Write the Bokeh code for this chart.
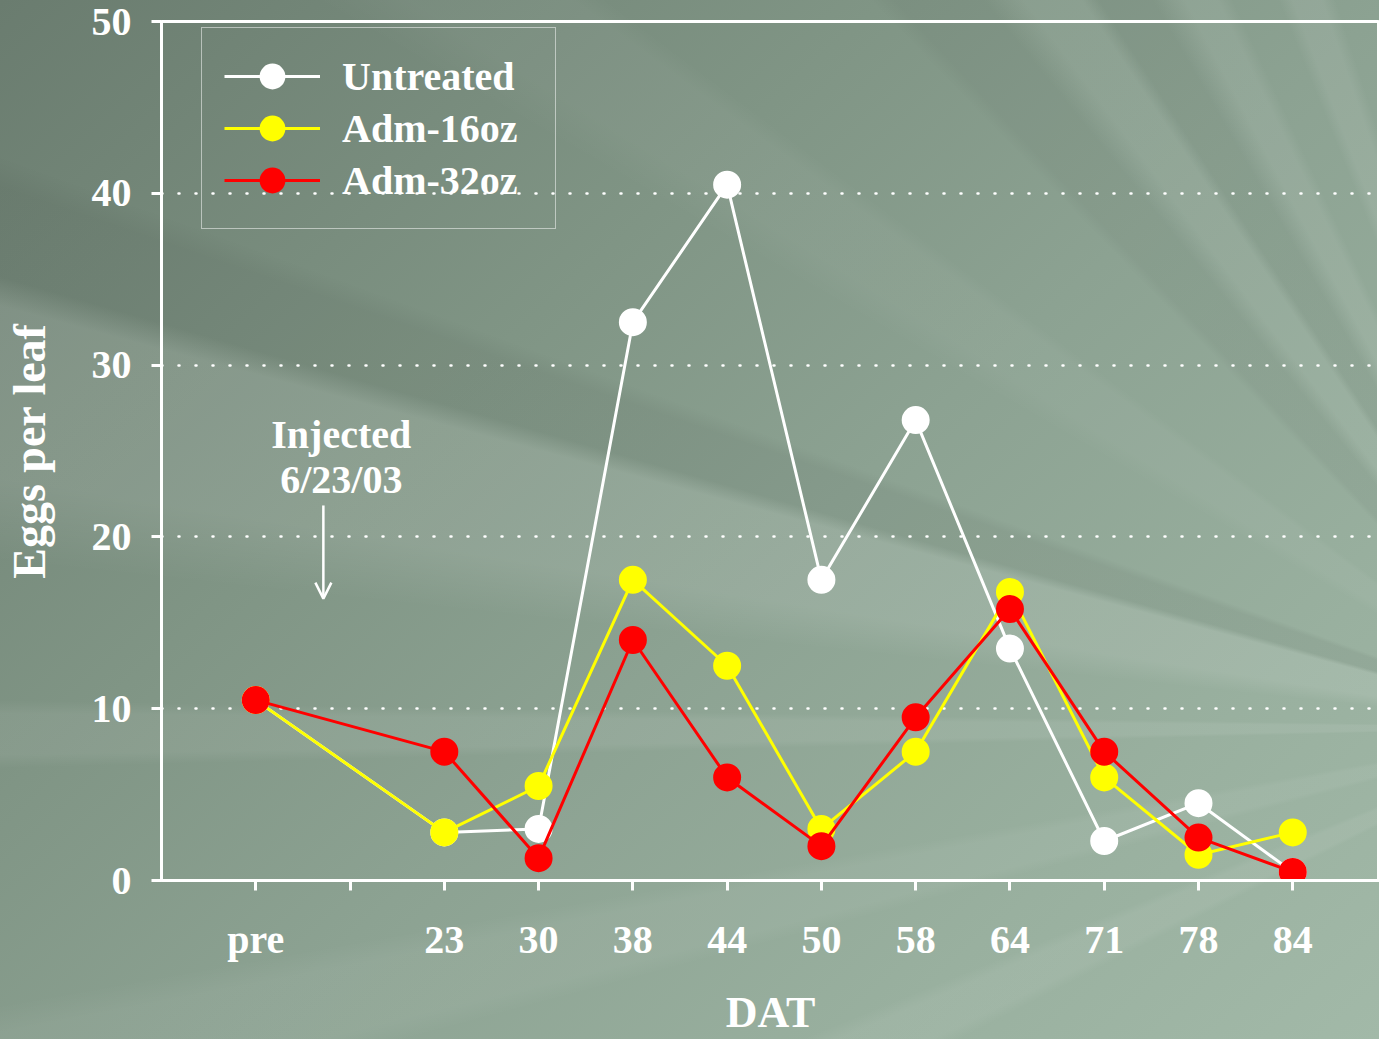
from bokeh.plotting import figure
from bokeh.models import (ColumnDataSource, FixedTicker, Legend, LegendItem,
                          Label, Arrow, OpenHead)
from bokeh.embed import file_html
from bokeh.resources import INLINE

# ---------------- data ----------------
tick_labels = ["pre", "", "23", "30", "38", "44", "50", "58", "64", "71", "78", "84"]
categories = ["pre", "23", "30", "38", "44", "50", "58", "64", "71", "78", "84"]
untreated = [10.5, 2.8, 3.0, 32.5, 40.5, 17.5, 26.8, 13.5, 2.3, 4.5, 0.5]
adm_16oz = [10.5, 2.8, 5.5, 17.5, 12.5, 3.0, 7.5, 16.8, 6.0, 1.5, 2.8]
adm_32oz = [10.5, 7.5, 1.3, 14.0, 6.0, 2.0, 9.5, 15.8, 7.5, 2.5, 0.5]
series_names = ["Untreated", "Adm-16oz", "Adm-32oz"]
series_colors = ["#ffffff", "#ffff00", "#ff0000"]
y_ticks = [0, 10, 20, 30, 40, 50]
grid_ticks = [10, 20, 30, 40]

x_pos = [tick_labels.index(c) + 1 for c in categories]

FONT = "Liberation Serif"

p = figure(width=1379, height=1039, x_range=(0, 12.92), y_range=(0, 50),
           output_backend="svg", toolbar_location=None,
           min_border_left=160, min_border_right=0,
           min_border_top=21, min_border_bottom=159)

p.styles = {
    "background": (
        "conic-gradient(from 0deg at 114% 70%, "
        "rgba(255,255,255,0) 0deg 243deg, "
        "rgba(255,255,255,0.06) 244deg 247deg, "
        "rgba(255,255,255,0) 248deg 255deg, "
        "rgba(255,255,255,0.05) 256deg 259deg, "
        "rgba(255,255,255,0) 260deg 268.5deg, "
        "rgba(255,255,255,0.07) 269deg 270.5deg, "
        "rgba(255,255,255,0) 271deg 276deg, "
        "rgba(255,255,255,0.10) 279deg 285deg, "
        "rgba(0,0,0,0.05) 286deg 289deg, "
        "rgba(255,255,255,0) 290deg 300deg, "
        "rgba(255,255,255,0.04) 302deg 306deg, "
        "rgba(255,255,255,0) 307deg 316deg, "
        "rgba(0,0,0,0.04) 317deg 321deg, "
        "rgba(255,255,255,0.06) 323deg 326deg, "
        "rgba(0,0,0,0.04) 327deg 330deg, "
        "rgba(255,255,255,0.07) 332deg 334deg, "
        "rgba(255,255,255,0) 335deg 338deg, "
        "rgba(255,255,255,0.08) 339deg 341deg, "
        "rgba(255,255,255,0) 342deg 360deg), "
        "linear-gradient(138deg, #6a7c6f 0%, #809585 35%, #8ca292 55%, #99b09f 80%, #a2b9a8 100%)"
    )
}

p.background_fill_alpha = 0
p.border_fill_alpha = 0
p.outline_line_color = "white"
p.outline_line_width = 3

# grid
p.xgrid.visible = False
p.ygrid.ticker = FixedTicker(ticks=grid_ticks)
p.ygrid.grid_line_color = "white"
p.ygrid.grid_line_width = 2.5
p.ygrid.grid_line_dash = "1 16"
p.ygrid.grid_line_cap = "round"

# axes
p.xaxis.ticker = FixedTicker(ticks=list(range(1, len(tick_labels) + 1)))
p.xaxis.major_label_overrides = {i + 1: lab for i, lab in enumerate(tick_labels)}
p.yaxis.ticker = FixedTicker(ticks=y_ticks)
for ax in (p.xaxis[0], p.yaxis[0]):
    ax.axis_line_color = "white"
    ax.axis_line_width = 3
    ax.major_tick_line_color = "white"
    ax.major_tick_line_width = 3
    ax.major_tick_out = 10
    ax.major_tick_in = 0
    ax.minor_tick_line_color = None
    ax.major_label_text_font = FONT
    ax.major_label_text_font_style = "bold"
    ax.major_label_text_font_size = "40px"
    ax.major_label_text_color = "white"
    ax.axis_label_text_font = FONT
    ax.axis_label_text_font_style = "bold"
    ax.axis_label_text_color = "white"
p.xaxis.major_label_standoff = 26
p.yaxis.major_label_standoff = 20
p.xaxis.axis_label = "DAT"
p.xaxis.axis_label_text_font_size = "44px"
p.xaxis.axis_label_standoff = 23
p.yaxis.axis_label = "Eggs per leaf"
p.yaxis.axis_label_text_font_size = "46px"
p.yaxis.axis_label_standoff = 34

# series
items = []
for name, vals, col in zip(series_names, [untreated, adm_16oz, adm_32oz], series_colors):
    src = ColumnDataSource(dict(x=x_pos, y=vals))
    ln = p.line("x", "y", source=src, line_color=col, line_width=3)
    sc = p.scatter("x", "y", source=src, size=23, fill_color=col,
                   line_color=col, line_width=5)
    items.append(LegendItem(label=name, renderers=[ln, sc]))

legend = Legend(items=items, location=(40, 651), padding=22, margin=0,
                glyph_width=96, glyph_height=52, spacing=0,
                label_standoff=22, label_width=191,
                label_text_font=FONT, label_text_font_style="bold",
                label_text_font_size="40px", label_text_color="white",
                label_text_baseline="middle",
                border_line_color="white", border_line_width=1.5,
                background_fill_alpha=0)
p.add_layout(legend)

# annotation
p.add_layout(Label(x=1.907, y=25.97, text="Injected", text_align="center",
                   text_baseline="alphabetic", text_font=FONT, text_font_style="bold",
                   text_font_size="40px", text_color="white"))
p.add_layout(Label(x=1.907, y=23.35, text="6/23/03", text_align="center",
                   text_baseline="alphabetic", text_font=FONT, text_font_style="bold",
                   text_font_size="40px", text_color="white"))
p.add_layout(Arrow(x_start=1.717, y_start=21.83, x_end=1.717, y_end=16.41,
                   line_color="white", line_width=2.5,
                   end=OpenHead(size=16, line_color="white", line_width=2.5)))

open("out.html", "w").write(file_html(p, INLINE))
